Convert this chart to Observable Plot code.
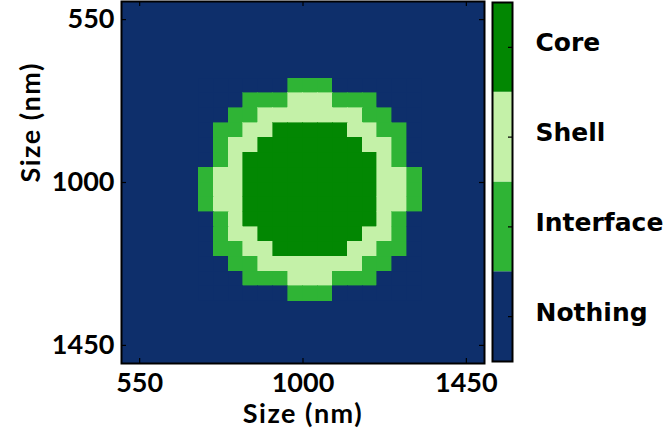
<!DOCTYPE html>
<html>
<head>
<meta charset="utf-8">
<script src="https://cdn.jsdelivr.net/npm/d3@7"></script>
<script src="https://cdn.jsdelivr.net/npm/@observablehq/plot@0.6"></script>
<style>
  html, body { margin: 0; padding: 0; background: #fff; }
  #chart { position: relative; width: 672px; height: 437px; overflow: hidden; }
  #chart > svg, #chart > figure { position: absolute; top: 0; margin: 0; }
  .main text { font-family: Lato, "Open Sans", sans-serif; font-weight: 700; }
  .main .axlabel text { letter-spacing: 1.5px; }
  .cbar text { font-family: "DejaVu Sans", sans-serif; font-weight: 700; }
</style>
</head>
<body>
<div id="chart"></div>
<script>
// ---- data ----
const categories = ["Nothing", "Interface", "Shell", "Core"];
const categoryColors = ["#0e2f6b", "#2fb435", "#c4f1a8", "#028702"];
const tickValues = [550, 1000, 1450];
const domainNm = [500, 1500];
// cell edges (nm), same for both axes
const cellEdges = [713, 754, 795, 836, 877, 918, 959, 1000, 1041, 1082, 1123, 1164, 1205, 1246, 1287, 1328];
// . = Nothing, i = Interface, s = Shell, c = Core ; rows top to bottom
const gridRows = [
  "......iii......",
  "...iiisssiii...",
  "..iisssssssii..",
  ".iisscccccssii.",
  ".isscccccccssi.",
  ".iscccccccccsi.",
  "isscccccccccssi",
  "isscccccccccssi",
  "isscccccccccssi",
  ".iscccccccccsi.",
  ".isscccccccssi.",
  ".iisscccccssii.",
  "..iisssssssii..",
  "...iiisssiii...",
  "......iii......"
];
const codeToCategory = {".": "Nothing", "i": "Interface", "s": "Shell", "c": "Core"};

const cells = [];
gridRows.forEach((row, r) => {
  [...row].forEach((ch, c) => {
    cells.push({
      x1: cellEdges[c], x2: cellEdges[c + 1],
      y1: cellEdges[r], y2: cellEdges[r + 1],
      cat: codeToCategory[ch]
    });
  });
});

const colorOf = Object.fromEntries(categories.map((k, i) => [k, categoryColors[i]]));

const W = 672, H = 437;
const main = Plot.plot({
  width: W, height: H,
  marginLeft: 121, marginRight: 188, marginTop: 1, marginBottom: 74,
  x: {domain: domainNm, label: null},
  y: {domain: domainNm, reverse: true, label: null},
  style: {background: "transparent"},
  marks: [
    Plot.frame({fill: colorOf.Nothing}),
    Plot.rect(cells, {x1: "x1", x2: "x2", y1: "y1", y2: "y2", fill: d => colorOf[d.cat], stroke: d => colorOf[d.cat], strokeWidth: 0.6, shapeRendering: "crispEdges"}),
    // inward ticks
    Plot.tickX(tickValues, {x: d => d, insetTop: 357, stroke: "black", strokeWidth: 1.2}),
    Plot.tickX(tickValues, {x: d => d, insetBottom: 357, stroke: "black", strokeWidth: 1.2}),
    Plot.tickY(tickValues, {y: d => d, insetLeft: 358, stroke: "black", strokeWidth: 1.2}),
    Plot.tickY(tickValues, {y: d => d, insetRight: 358, stroke: "black", strokeWidth: 1.2}),
    Plot.frame({stroke: "black", strokeWidth: 2}),
    Plot.axisX(tickValues, {anchor: "bottom", tickSize: 0, tickPadding: 9, fontSize: 27, label: null, tickFormat: d => String(d)}),
    Plot.axisY(tickValues, {anchor: "left", tickSize: 0, tickPadding: 7, fontSize: 27, label: null, tickFormat: d => String(d)}),
    Plot.text(["Size (nm)"], {frameAnchor: "bottom", dy: 40, fontSize: 27, fill: "black", lineAnchor: "top", className: "axlabel"}),
    Plot.text(["Size (nm)"], {frameAnchor: "left", dx: -90, rotate: -90, fontSize: 27, fill: "black", className: "axlabel"})
  ]
});
main.classList.add("main");
main.style.left = "0px";
document.getElementById("chart").appendChild(main);

// colorbar
const cbData = categories.map((k, i) => ({cat: k, lo: i, hi: i + 1, mid: i + 0.5}));
const cbar = Plot.plot({
  width: 192, height: H,
  marginLeft: 12, marginRight: 160, marginTop: 2, marginBottom: 76,
  x: {domain: [0, 1], axis: null},
  y: {domain: [0, categories.length], axis: null},
  style: {background: "transparent"},
  marks: [
    Plot.rect(cbData, {x1: () => 0, x2: () => 1, y1: "lo", y2: "hi", fill: d => colorOf[d.cat]}),
    Plot.tickY(cbData, {y: "mid", insetLeft: 16, stroke: "black", strokeWidth: 1.2}),
    Plot.frame({stroke: "black", strokeWidth: 2}),
    Plot.text(cbData, {x: () => 1, y: "mid", text: "cat", dx: 23, dy: -4, textAnchor: "start", fontSize: 25, fill: "black"})
  ]
});
cbar.classList.add("cbar");
cbar.style.left = "480px";
document.getElementById("chart").appendChild(cbar);
</script>
</body>
</html>
